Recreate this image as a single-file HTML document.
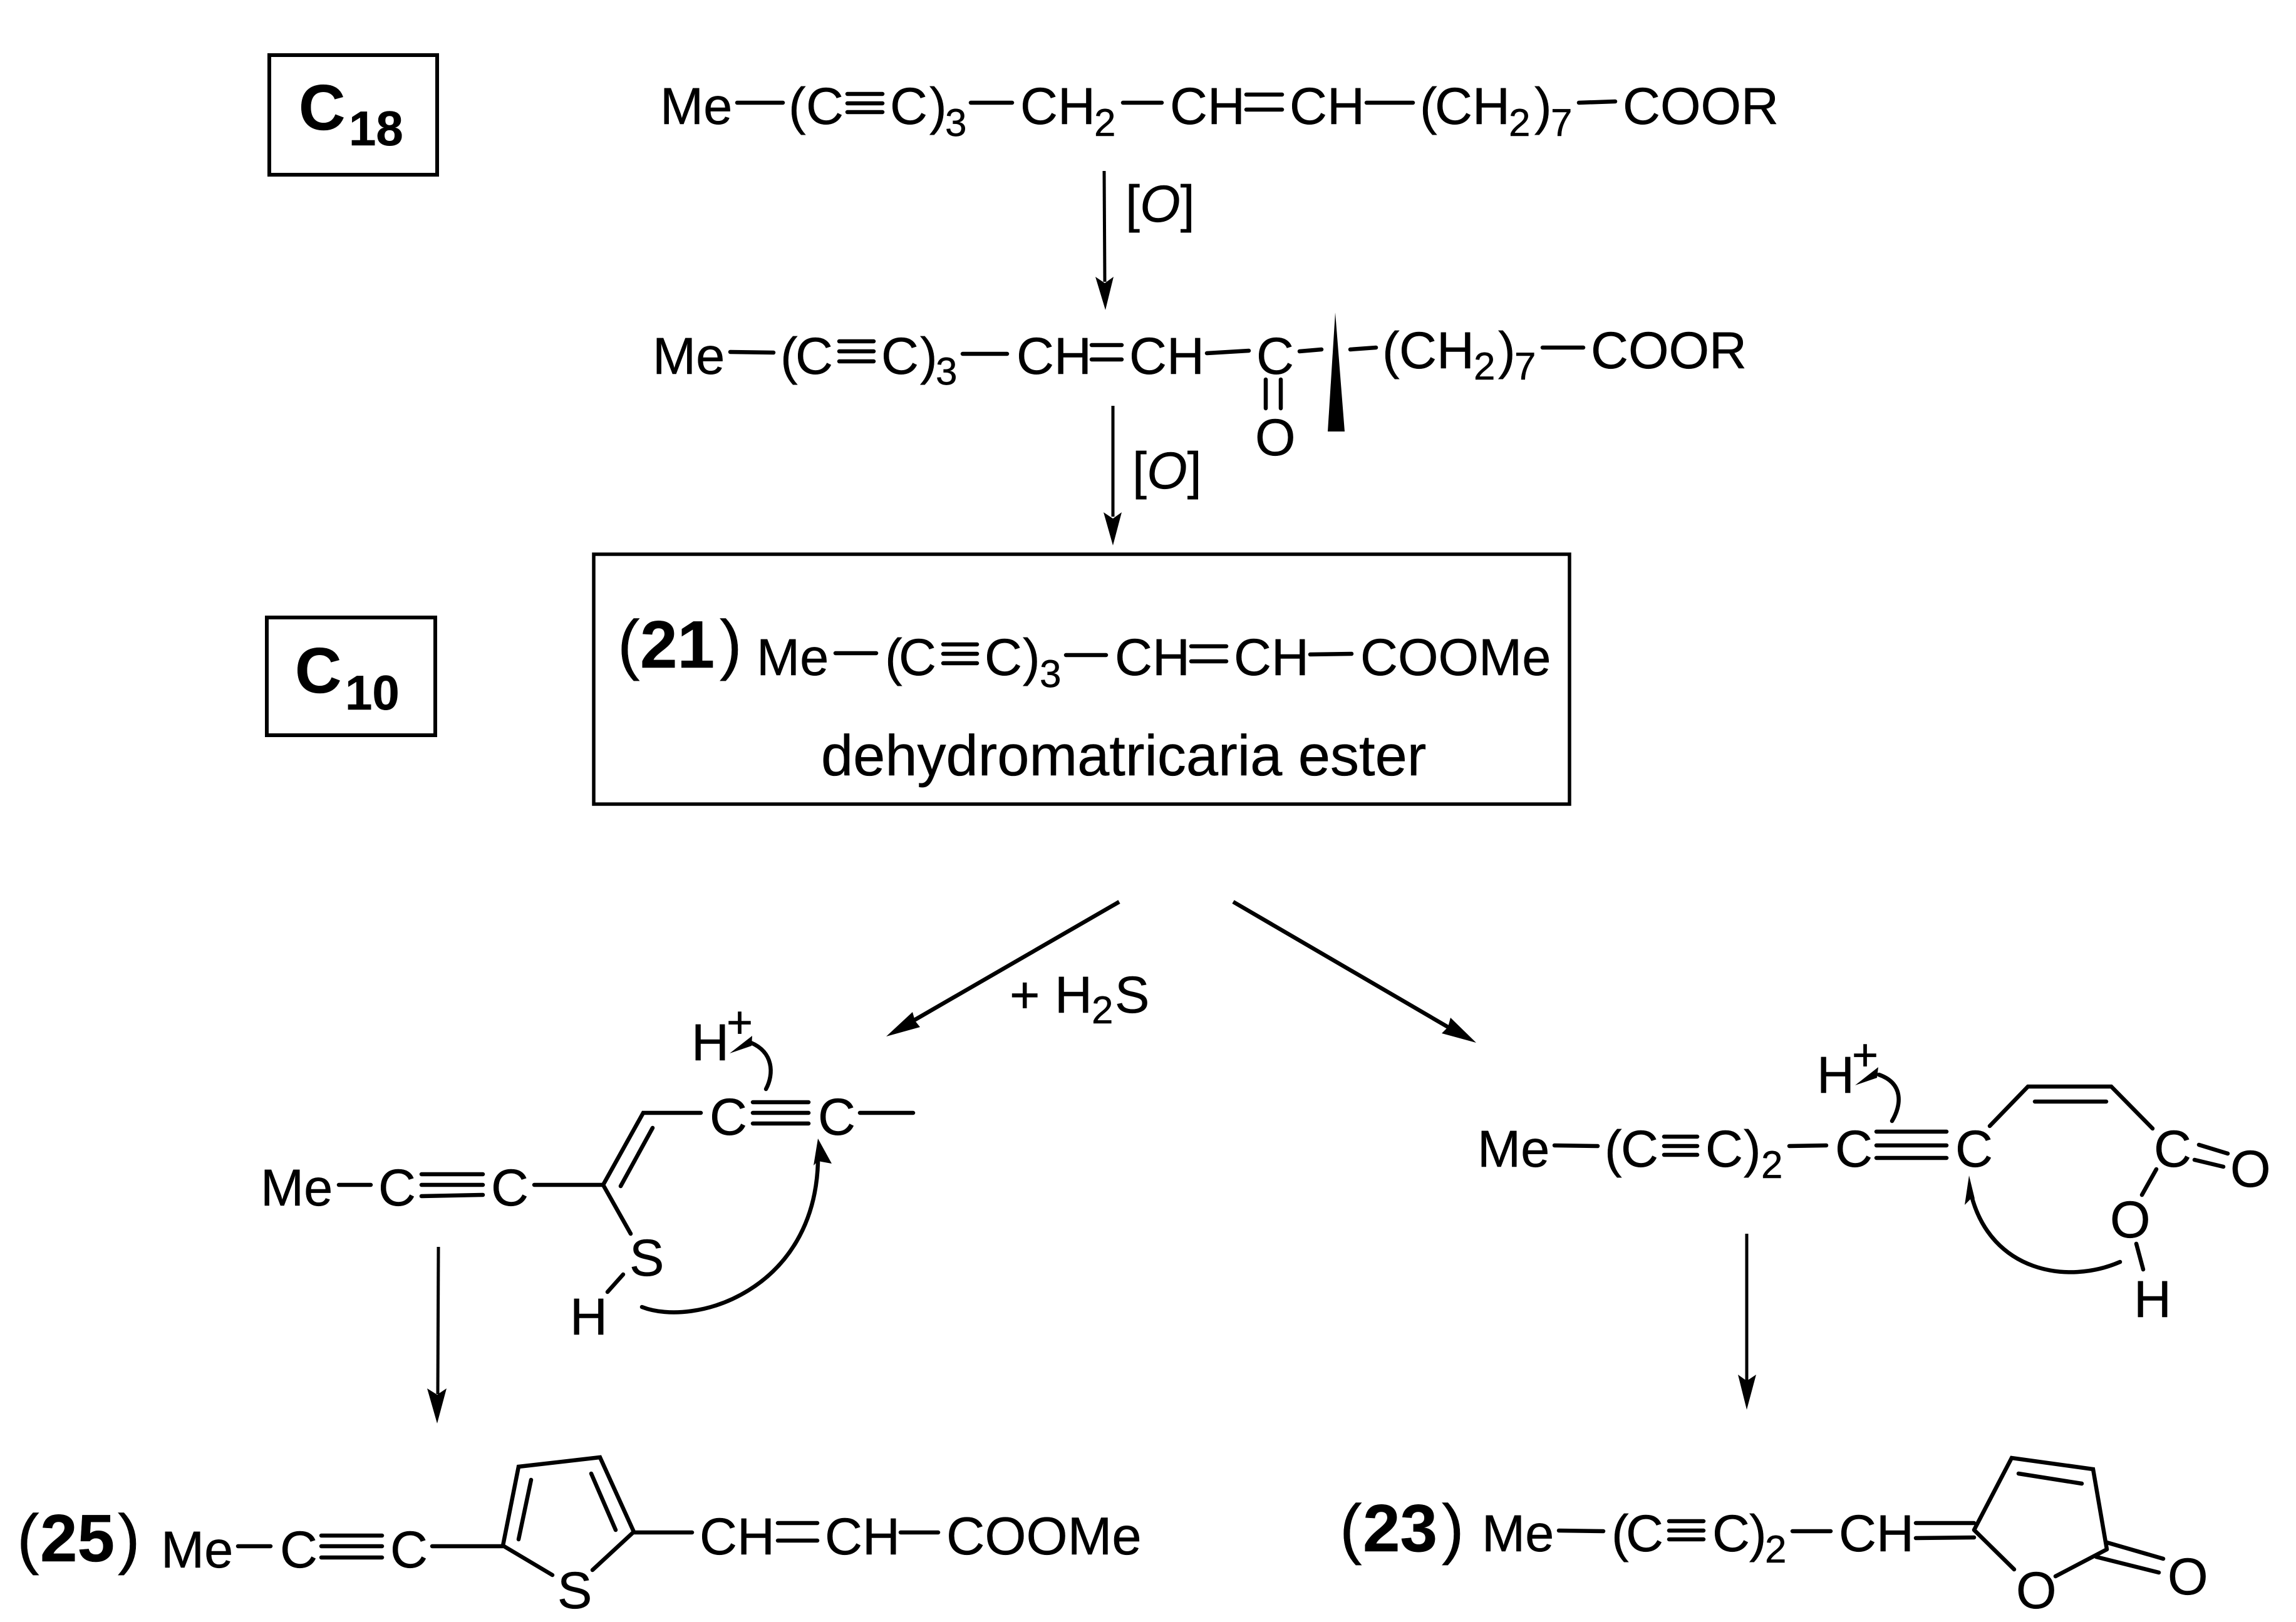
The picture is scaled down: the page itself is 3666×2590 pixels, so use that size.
<!DOCTYPE html>
<html lang="en">
<head>
<meta charset="utf-8">
<title>Dehydromatricaria ester biosynthesis</title>
<style>
html,body{margin:0;padding:0;background:#fff;width:3666px;height:2590px;overflow:hidden}
svg{display:block}
text{font-family:"Liberation Sans",Arial,sans-serif;font-size:83px;fill:#000;stroke:#000;stroke-width:.5px;text-rendering:geometricPrecision}
.s{font-size:62px}
.b{font-weight:bold;font-size:107px}
.p{font-size:107px}
.c{font-weight:bold;font-size:103px}
.cs{font-weight:bold;font-size:78px}
.n{fill:none;stroke:#000;stroke-width:6.5;stroke-linecap:round;stroke-linejoin:miter}
.a{fill:none;stroke:#000;stroke-width:5}
</style>
</head>
<body>
<svg xmlns="http://www.w3.org/2000/svg" width="3666" height="2590" viewBox="0 0 3666 2590">
<rect width="3666" height="2590" fill="#fff"/>

<!-- labelled boxes -->
<rect x="430" y="88" width="268" height="191" fill="none" stroke="#000" stroke-width="6"/>
<text class="c" x="477" y="207">C</text><text class="cs" x="557" y="232">18</text>
<rect x="426" y="986" width="269" height="188" fill="none" stroke="#000" stroke-width="6"/>
<text class="c" x="471" y="1106">C</text><text class="cs" x="551" y="1133">10</text>

<!-- row 1 -->
<g>
<text x="1054" y="198">Me</text><text x="1259" y="198">(</text><text x="1287" y="198">C</text><text x="1421" y="198">C</text><text x="1484" y="198">)</text><text class="s" x="1509" y="217">3</text>
<text x="1629" y="198">CH</text><text class="s" x="1747" y="217">2</text><text x="1868" y="198">CH</text><text x="2059" y="198">CH</text>
<text x="2267" y="198">(</text><text x="2291" y="198">CH</text><text class="s" x="2409" y="217">2</text><text x="2450" y="198">)</text><text class="s" x="2476" y="217">7</text><text x="2591" y="198">COOR</text>
<path class="n" d="M1177,164H1250M1353,150H1409M1353,165H1409M1353,179H1409M1550,164H1616M1793,164H1855M1990,151H2047M1990,175H2047M2182,164H2256M2521,164L2579,162"/>
</g>

<!-- arrow 1 -->
<path class="a" d="M1763,273L1764,450"/>
<polygon points="1765,495 1749,442 1764,452 1778,442" fill="#000"/>
<text x="1797" y="354">[<tspan font-style="italic">O</tspan>]</text>

<!-- row 2 -->
<g>
<text x="1042" y="597">Me</text><text x="1246" y="597">(</text><text x="1270" y="597">C</text><text x="1407" y="597">C</text><text x="1469" y="597">)</text><text class="s" x="1494" y="614">3</text>
<text x="1623" y="597">CH</text><text x="1803" y="597">CH</text><text x="2006" y="597">C</text><text x="2004" y="727">O</text>
<text x="2207" y="588">(</text><text x="2234" y="588">CH</text><text class="s" x="2353" y="606">2</text><text x="2392" y="588">)</text><text class="s" x="2418" y="606">7</text><text x="2540" y="588">COOR</text>
<path class="n" d="M1166,562L1235,563M1340,545H1395M1340,561H1395M1340,577H1395M1537,565H1608M1743,551H1791M1743,574H1791M1927,564L1994,560M2075,561L2110,558M2156,558L2197,555M2463,555H2528M2021,606V652M2045,606V652"/>
<polygon points="2132,499 2120,689 2147,689" fill="#000"/>
</g>

<!-- arrow 2 -->
<path class="a" d="M1777,648V825"/>
<polygon points="1777,871 1762,818 1777,828 1791,818" fill="#000"/>
<text x="1808" y="780">[<tspan font-style="italic">O</tspan>]</text>

<!-- box 21 -->
<rect x="948" y="885" width="1558" height="399" fill="none" stroke="#000" stroke-width="5.5"/>
<text class="p" x="986" y="1065">(</text><text class="b" x="1022" y="1066">21</text><text class="p" x="1149" y="1065">)</text>
<text x="1208" y="1078">Me</text><text x="1413" y="1078">(</text><text x="1435" y="1078">C</text><text x="1572" y="1078">C</text><text x="1633" y="1078">)</text><text class="s" x="1660" y="1097">3</text>
<text x="1780" y="1078">CH</text><text x="1970" y="1078">CH</text><text x="2172" y="1078">COOMe</text>
<path class="n" d="M1334,1043H1399M1506,1029H1560M1506,1044H1560M1506,1059H1560M1702,1046H1766M1902,1032H1958M1902,1056H1958M2092,1045L2158,1044"/>
<text x="1311" y="1238" style="font-size:92px">dehydromatricaria ester</text>

<!-- branch arrows -->
<path d="M1787,1440L1458,1630" fill="none" stroke="#000" stroke-width="6.5"/>
<polygon points="1415,1655 1457,1616 1461,1630 1469,1640" fill="#000"/>
<path d="M1969,1440L2312,1640" fill="none" stroke="#000" stroke-width="6.5"/>
<polygon points="2357,1665 2316,1625 2312,1640 2302,1650" fill="#000"/>
<text x="1612" y="1617">+</text><text x="1684" y="1617">H</text><text class="s" x="1743" y="1634">2</text><text x="1780" y="1617">S</text>

<!-- left intermediate -->
<text x="416" y="1925">Me</text><text x="604" y="1925">C</text><text x="784" y="1925">C</text>
<text x="1133" y="1812">C</text><text x="1306" y="1812">C</text>
<text x="1104" y="1693">H</text><text x="1160" y="1657" style="font-size:72px">+</text>
<text x="1005" y="2037">S</text><text x="910" y="2131">H</text>
<path class="n" d="M541,1892H592M673,1875H771M673,1892H771M673,1910L771,1908M853,1892H963M963,1892L1027,1777H1119M991,1894L1042,1801M963,1892L1007,1970M995,2035L970,2063M1202,1760H1291M1202,1777H1291M1202,1794H1291M1373,1777H1458"/>
<path class="n" d="M1223,1739C1236,1715 1235,1680 1199,1665"/>
<polygon points="1165,1682 1201,1654 1200,1670" fill="#000"/>
<path class="n" d="M1025,2087C1110,2120 1300,2060 1306,1856"/>
<polygon points="1306,1818 1299,1861 1306,1854 1328,1858" fill="#000"/>

<!-- right intermediate -->
<text x="2359" y="1863">Me</text><text x="2562" y="1863">(</text><text x="2588" y="1863">C</text><text x="2723" y="1863">C</text><text x="2784" y="1863">)</text><text class="s" x="2812" y="1881">2</text>
<text x="2930" y="1863">C</text><text x="3122" y="1863">C</text><text x="3439" y="1863">C</text><text x="3561" y="1895">O</text><text x="3369" y="1976">O</text><text x="3407" y="2103">H</text>
<text x="2901" y="1745">H</text><text x="2957" y="1709" style="font-size:72px">+</text>
<path class="n" d="M2482,1829L2551,1830M2657,1815H2710M2657,1830H2710M2657,1844H2710M2857,1830L2916,1829M2996,1807H3108M2996,1829H3108M2996,1849H3108M3177,1798L3238,1735H3371L3437,1802M3249,1759H3363M3511,1828L3557,1842M3504,1852L3550,1863M3443,1867L3420,1908M3411,1986L3422,2027"/>
<path class="n" d="M3021,1790C3036,1765 3040,1730 3000,1716"/>
<polygon points="2962,1733 2999,1704 2997,1721" fill="#000"/>
<path class="n" d="M3385,2015C3300,2052 3180,2030 3148,1910"/>
<polygon points="3144,1877 3137,1924 3149,1912 3153,1914" fill="#000"/>

<!-- down arrows -->
<path class="a" d="M700,1991L699,2226"/>
<polygon points="698,2273 682,2217 698,2227 713,2217" fill="#000"/>
<path class="a" d="M2789,1970V2205"/>
<polygon points="2789,2251 2775,2195 2789,2205 2804,2195" fill="#000"/>

<!-- compound 25 -->
<text class="p" x="27" y="2493">(</text><text class="b" x="64" y="2493">25</text><text class="p" x="188" y="2493">)</text>
<text x="257" y="2503">Me</text><text x="447" y="2503">C</text><text x="623" y="2503">C</text><text x="890" y="2568">S</text>
<text x="1117" y="2482">CH</text><text x="1317" y="2482">CH</text><text x="1511" y="2482" style="font-size:85px">COOMe</text>
<path class="n" d="M380,2469H432M513,2452H610M513,2469H610M513,2487H610M690,2469H803M803,2468L828,2342L958,2327L1012,2446M803,2468L882,2515M1012,2446L946,2507M848,2363L828,2458M944,2353L983,2443M1012,2447H1105M1242,2432H1305M1242,2460H1305M1438,2447H1498"/>

<!-- compound 23 -->
<text class="p" x="2139" y="2477">(</text><text class="b" x="2176" y="2477">23</text><text class="p" x="2302" y="2477">)</text>
<text x="2366" y="2477">Me</text><text x="2573" y="2477">(</text><text x="2596" y="2477">C</text><text x="2734" y="2477">C</text><text x="2793" y="2477">)</text><text class="s" x="2818" y="2495">2</text>
<text x="2936" y="2477">CH</text><text x="3219" y="2568">O</text><text x="3461" y="2546">O</text>
<path class="n" d="M2489,2444L2560,2445M2665,2429H2720M2665,2444H2720M2665,2458H2720M2862,2445H2923M3059,2432H3152M3059,2456L3152,2455M3152,2443L3212,2328L3342,2346L3364,2474M3152,2443L3216,2506M3364,2474L3282,2517M3223,2353L3324,2369M3364,2463L3454,2489M3347,2486L3447,2511"/>
</svg>
</body>
</html>
